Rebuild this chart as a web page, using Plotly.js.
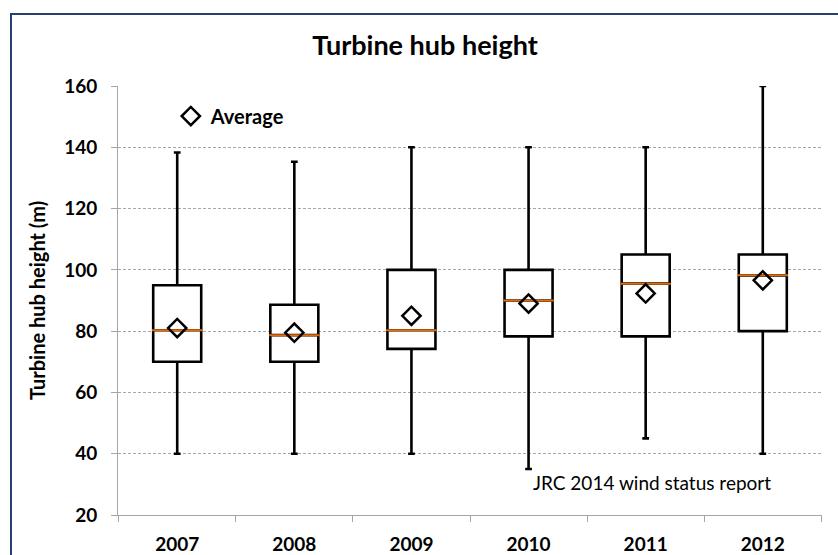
<!DOCTYPE html>
<html>
<head>
<meta charset="utf-8">
<script src="https://cdn.plot.ly/plotly-3.0.1.min.js"></script>
<style>
  html, body { margin: 0; padding: 0; background: #fff; overflow: hidden; }
  #chart { position: absolute; left: 0; top: 0; width: 838px; height: 555px; }
  #frame {
    position: absolute; left: 10px; top: 13px; width: 900px; height: 900px;
    border-left: 2px solid #243F70; border-top: 2px solid #243F70;
    pointer-events: none;
  }
</style>
</head>
<body>
<div id="chart"></div>
<div id="frame"></div>
<script>
// values (m)
var years = ['2007', '2008', '2009', '2010', '2011', '2012'];
var minH = [40, 40, 40, 35, 45, 40];
var q1 = [70, 70, 74.2, 78.3, 78.3, 80];
var medianH = [80.3, 78.7, 80.3, 90, 95.5, 98.2];
var q3 = [95, 88.6, 100, 100, 105, 105];
var maxH = [138.3, 135.3, 140, 140, 140, 160];
var meanH = [81, 79.5, 85, 89, 92.3, 96.6];

var font = 'Lato, "Open Sans", sans-serif';

var boxes = {
  type: 'box',
  x: years,
  q1: q1,
  median: medianH,
  q3: q3,
  lowerfence: minH,
  upperfence: maxH,
  boxpoints: false,
  width: 0.41,
  fillcolor: '#ffffff',
  line: { color: '#000000', width: 2.6 },
  whiskerwidth: 0.14,
  showlegend: false,
  hoverinfo: 'skip'
};

var medians = {
  type: 'scatter',
  mode: 'markers',
  x: years,
  y: medianH,
  marker: { symbol: 'line-ew', size: 36, line: { color: '#E46C0A', width: 2 } },
  showlegend: false,
  hoverinfo: 'skip'
};

var means = {
  type: 'scatter',
  mode: 'markers',
  name: 'Average',
  x: years,
  y: meanH,
  marker: { symbol: 'diamond-open', size: 14, color: '#000000', line: { color: '#000000', width: 2.5 } }
};

var layout = {
  width: 838,
  height: 555,
  margin: { l: 118, r: 16, t: 86, b: 40 },
  paper_bgcolor: '#ffffff',
  plot_bgcolor: '#ffffff',
  font: { family: font, color: '#000000' },
  title: {
    text: 'Turbine hub height',
    font: { family: font, size: 27, weight: 'bold', color: '#000000' },
    x: (425 - 118) / 704, xref: 'paper', xanchor: 'center',
    y: 1 - 46 / 555, yref: 'container', yanchor: 'middle'
  },
  xaxis: {
    type: 'category',
    showline: true, linecolor: '#A6A6A6', linewidth: 1,
    ticks: 'outside', tickson: 'boundaries', ticklen: 6, tickcolor: '#A6A6A6',
    tickfont: { family: font, size: 19, weight: 'bold' },
    ticklabelstandoff: 12,
    showgrid: false, zeroline: false
  },
  yaxis: {
    range: [20, 160],
    dtick: 20,
    showline: true, linecolor: '#A6A6A6', linewidth: 1,
    ticks: 'outside', ticklen: 6, tickcolor: '#A6A6A6',
    tickfont: { family: font, size: 19, weight: 'bold' },
    ticklabelstandoff: 10,
    showgrid: true, gridcolor: '#A6A6A6', griddash: '3px,2px', gridwidth: 1,
    zeroline: false,
    title: {
      text: 'Turbine hub height (m)',
      font: { family: font, size: 20, weight: 'bold' },
      standoff: 13
    }
  },
  showlegend: true,
  legend: {
    x: 0.075, y: 0.93, xanchor: 'left', yanchor: 'middle',
    bgcolor: 'rgba(0,0,0,0)',
    font: { family: font, size: 20, weight: 'bold', color: '#000000' },
    itemwidth: 30
  },
  annotations: [{
    text: 'JRC 2014 wind status report',
    xref: 'paper', yref: 'y',
    x: (531 - 118) / 704, y: 30.5,
    xanchor: 'left', yanchor: 'middle',
    showarrow: false,
    font: { family: font, size: 19, color: '#000000' }
  }]
};

Plotly.newPlot('chart', [boxes, medians, means], layout, { displayModeBar: false, staticPlot: true });
</script>
</body>
</html>
